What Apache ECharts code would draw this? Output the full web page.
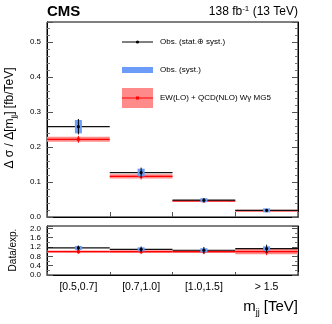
<!DOCTYPE html>
<html>
<head>
<meta charset="utf-8">
<script src="https://cdn.jsdelivr.net/npm/echarts@6/dist/echarts.min.js"></script>
<style>
  html, body { margin: 0; padding: 0; background: #fff; }
  #main { width: 332px; height: 324px; }
</style>
</head>
<body>
<div id="main"></div>
<script>
// bins of m_jj
var categories = ['[0.5,0.7]', '[0.7,1.0]', '[1.0,1.5]', '> 1.5'];

// upper panel: dsigma/dm_jj [fb/TeV]
var obs = [0.258, 0.127, 0.048, 0.019];
var obsTotErr = [0.022, 0.014, 0.006, 0.003];
var obsSystErr = [0.019, 0.011, 0.004, 0.002];
var pred = [0.222, 0.116, 0.046, 0.018];
var predErr = [0.007, 0.006, 0.002, 0.001];

// lower panel: data / expectation
var ratio = [1.16, 1.10, 1.06, 1.13];
var ratioTotErr = [0.10, 0.12, 0.14, 0.17];
var ratioSystErr = [0.08, 0.08, 0.09, 0.10];
var predRatio = [1, 1, 1, 1];
var predRatioErr = [0.05, 0.06, 0.06, 0.11];

var upperTicks = ['0.0', '0.1', '0.2', '0.3', '0.4', '0.5'];
var lowerTicks = ['0.0', '0.4', '0.8', '1.2', '1.6', '2.0'];

var FONT = 'Liberation Sans';
var BLUE = '#6b9cf7';
var PINK = '#ff8a8a';
var RED = '#ff0000';

var myChart = echarts.init(document.getElementById('main'));

// text width helper for the subscripted titles
var ctx = document.createElement('canvas').getContext('2d');
function tw(str, size) {
  ctx.font = size + 'px ' + FONT;
  return ctx.measureText(str).width;
}

// builds "pre" + sub + "post" as a row of text pieces, starting at x=0
function subTitle(pre, sub, post, size, subSize, subDrop) {
  var w1 = tw(pre, size), w2 = tw(sub, subSize), w3 = tw(post, size);
  var total = w1 + w2 + w3;
  var x0 = -total / 2;
  return {
    width: total,
    children: [
      { type: 'text', x: x0, y: 0, style: { text: pre, font: size + 'px ' + FONT, fill: '#000', verticalAlign: 'middle' } },
      { type: 'text', x: x0 + w1, y: subDrop, style: { text: sub, font: subSize + 'px ' + FONT, fill: '#000', verticalAlign: 'middle' } },
      { type: 'text', x: x0 + w1 + w2, y: 0, style: { text: post, font: size + 'px ' + FONT, fill: '#000', verticalAlign: 'middle' } }
    ]
  };
}

// prediction band + line + small marker
function predItem(params, api) {
  var i = api.value(0), v = api.value(1), e = api.value(2);
  var w = api.size([1, 0])[0];
  var c = api.coord([i, v]);
  var top = api.coord([i, v + e])[1];
  var bot = api.coord([i, v - e])[1];
  var h = Math.max(bot - top, 2);
  return {
    type: 'group',
    children: [
      { type: 'rect', shape: { x: c[0] - w / 2, y: c[1] - h / 2, width: w, height: h }, style: { fill: PINK } },
      { type: 'line', shape: { x1: c[0] - w / 2, y1: c[1], x2: c[0] + w / 2, y2: c[1] }, style: { stroke: RED, lineWidth: 1.2 } },
      { type: 'rect', shape: { x: c[0] - 1.5, y: c[1] - 1.5, width: 3, height: 3 }, style: { fill: RED } },
      { type: 'line', shape: { x1: c[0], y1: top - 1, x2: c[0], y2: bot + 1 }, style: { stroke: RED, lineWidth: 1 } }
    ]
  };
}

// observed: horizontal line, syst box, total error bar, point
function obsItem(params, api) {
  var i = api.value(0), v = api.value(1), tot = api.value(2), sys = api.value(3);
  var w = api.size([1, 0])[0];
  var c = api.coord([i, v]);
  var tTop = api.coord([i, v + tot])[1];
  var tBot = api.coord([i, v - tot])[1];
  var sTop = api.coord([i, v + sys])[1];
  var sBot = api.coord([i, v - sys])[1];
  var sh = Math.max(sBot - sTop, 4);
  return {
    type: 'group',
    children: [
      { type: 'line', shape: { x1: c[0] - w / 2, y1: c[1], x2: c[0] + w / 2, y2: c[1] }, style: { stroke: '#111', lineWidth: 1.2 } },
      { type: 'rect', shape: { x: c[0] - 3.5, y: c[1] - sh / 2, width: 7, height: sh }, style: { fill: BLUE } },
      { type: 'line', shape: { x1: c[0], y1: tTop, x2: c[0], y2: tBot }, style: { stroke: '#000', lineWidth: 1 } },
      { type: 'circle', shape: { cx: c[0], cy: c[1], r: 1.6 }, style: { fill: '#000' } }
    ]
  };
}

function yAxisPair(gridIndex, max, interval, labels, minorSplit) {
  var base = {
    gridIndex: gridIndex,
    type: 'value',
    min: 0,
    max: max,
    interval: interval,
    splitLine: { show: false },
    axisLine: { show: true, lineStyle: { color: '#000' } },
    axisTick: { show: true, inside: true, length: 6, lineStyle: { color: '#555' } },
    minorTick: { show: true, splitNumber: minorSplit, length: 3, lineStyle: { color: '#777' } }
  };
  var left = Object.assign({}, base, {
    position: 'left',
    axisLabel: {
      fontFamily: FONT, fontSize: 8, color: '#000', margin: 6,
      formatter: function (val) {
        var k = Math.round(val / interval);
        return labels[k] !== undefined ? labels[k] : '';
      }
    }
  });
  var right = Object.assign({}, base, { position: 'right', axisLabel: { show: false } });
  return [left, right];
}

var yTitle = subTitle('Δ σ / Δ[m', 'jj', '] [fb/TeV]', 12, 8, 4);
var xTitle = subTitle('m', 'jj', ' [TeV]', 15, 9, 6);

var option = {
  animation: false,
  backgroundColor: '#fff',
  textStyle: { fontFamily: FONT },
  grid: [
    { left: 47, right: 34, top: 22, height: 195, show: true, borderColor: '#000', borderWidth: 1 },
    { left: 47, right: 34, top: 226, height: 49, show: true, borderColor: '#000', borderWidth: 1 }
  ],
  xAxis: [
    {
      gridIndex: 0, type: 'category', data: categories, boundaryGap: true,
      axisLine: { show: true, lineStyle: { color: '#000' } },
      axisTick: { show: true, inside: true, length: 5, lineStyle: { color: '#555' } },
      axisLabel: { show: false }
    },
    {
      gridIndex: 1, type: 'category', data: categories, boundaryGap: true,
      axisLine: { show: true, lineStyle: { color: '#000' } },
      axisTick: { show: true, inside: true, length: 3, lineStyle: { color: '#555' } },
      axisLabel: { fontFamily: FONT, fontSize: 10.5, color: '#000', margin: 7 }
    }
  ],
  yAxis: [].concat(
    yAxisPair(0, 0.557, 0.1, upperTicks, 5),
    yAxisPair(1, 2.1, 0.4, lowerTicks, 2)
  ),
  graphic: [
    { type: 'text', left: 47, top: 4, style: { text: 'CMS', font: 'bold 15px ' + FONT, fill: '#000' } },
    {
      type: 'text', right: 34, top: 5,
      style: {
        text: '138 fb{sup|-1} (13 TeV)', font: '12px ' + FONT, fill: '#000',
        rich: { sup: { fontSize: 8, verticalAlign: 'top', padding: [0, 0, 6, 0], fontFamily: FONT } }
      }
    },
    // y axis titles
    { type: 'group', x: 10, y: 118, rotation: Math.PI / 2, children: yTitle.children },
    { type: 'text', x: 13, y: 250, rotation: Math.PI / 2,
      style: { text: 'Data/exp.', font: '10px ' + FONT, fill: '#000', align: 'center', verticalAlign: 'middle' } },
    // legend
    { type: 'line', shape: { x1: 122, y1: 42, x2: 153, y2: 42 }, style: { stroke: '#000', lineWidth: 1 } },
    { type: 'circle', shape: { cx: 137.5, cy: 42, r: 1.6 }, style: { fill: '#000' } },
    { type: 'text', x: 160, y: 42, style: { text: 'Obs. (stat.⊕ syst.)', font: '8px ' + FONT, fill: '#000', verticalAlign: 'middle' } },
    { type: 'rect', shape: { x: 122, y: 67, width: 31, height: 6 }, style: { fill: BLUE } },
    { type: 'text', x: 160, y: 70, style: { text: 'Obs. (syst.)', font: '8px ' + FONT, fill: '#000', verticalAlign: 'middle' } },
    { type: 'rect', shape: { x: 122, y: 88, width: 31, height: 20 }, style: { fill: PINK } },
    { type: 'line', shape: { x1: 122, y1: 98, x2: 153, y2: 98 }, style: { stroke: RED, lineWidth: 1 } },
    { type: 'rect', shape: { x: 136, y: 96.5, width: 3, height: 3 }, style: { fill: RED } },
    { type: 'text', x: 160, y: 98, style: { text: 'EW(LO) + QCD(NLO) Wγ MG5', font: '8px ' + FONT, fill: '#000', verticalAlign: 'middle' } },
    // x axis title, right aligned to the frame
    { type: 'group', x: 298 - xTitle.width / 2, y: 307, children: xTitle.children }
  ],
  series: [
    {
      type: 'custom', xAxisIndex: 0, yAxisIndex: 0, renderItem: predItem,
      data: categories.map(function (c, i) { return [i, pred[i], predErr[i]]; })
    },
    {
      type: 'custom', xAxisIndex: 0, yAxisIndex: 0, renderItem: obsItem,
      data: categories.map(function (c, i) { return [i, obs[i], obsTotErr[i], obsSystErr[i]]; })
    },
    {
      type: 'custom', xAxisIndex: 1, yAxisIndex: 2, renderItem: predItem,
      data: categories.map(function (c, i) { return [i, predRatio[i], predRatioErr[i]]; })
    },
    {
      type: 'custom', xAxisIndex: 1, yAxisIndex: 2, renderItem: obsItem,
      data: categories.map(function (c, i) { return [i, ratio[i], ratioTotErr[i], ratioSystErr[i]]; })
    }
  ]
};

myChart.setOption(option);
</script>
</body>
</html>
